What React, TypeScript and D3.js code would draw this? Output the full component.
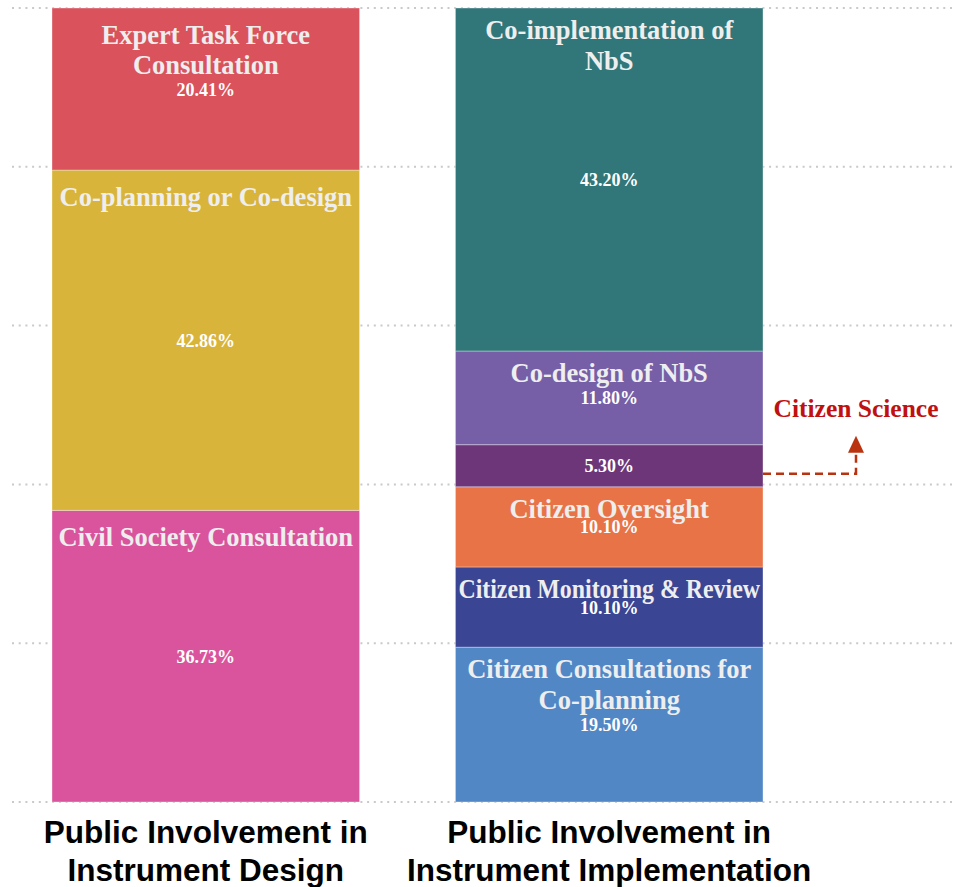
import React from "react";
import * as d3 from "d3";

const barCategories = ["design", "implementation"];
const axisTitles = [
  ["Public Involvement in", "Instrument Design"],
  ["Public Involvement in", "Instrument Implementation"],
];

// stacked bottom -> top
const designLabels = [
  ["Civil Society Consultation"],
  ["Co-planning or Co-design"],
  ["Expert Task Force", "Consultation"],
];
const designValues = [36.73, 42.86, 20.41];
const designColors = ["#d9549c", "#d9b43a", "#d9525c"];

const implLabels = [
  ["Citizen Consultations for", "Co-planning"],
  ["Citizen Monitoring & Review"],
  ["Citizen Oversight"],
  [],
  ["Co-design of NbS"],
  ["Co-implementation of", "NbS"],
];
const implValues = [19.5, 10.1, 10.1, 5.3, 11.8, 43.2];
const implColors = ["#5287c6", "#3a4593", "#e87346", "#6d3679", "#765fa7", "#31777a"];

const gridTicks = [0, 20, 40, 60, 80, 100];
const annotationText = "Citizen Science";
const annotationIndex = 3;

const W = 953;
const H = 887;
const serif = "'Liberation Serif', 'Times New Roman', serif";
const sans = "'Liberation Sans', Arial, sans-serif";

let ctx: CanvasRenderingContext2D | null = null;
function measure(text: string, font: string): number {
  if (typeof document === "undefined") return 0;
  if (!ctx) ctx = document.createElement("canvas").getContext("2d");
  if (!ctx) return 0;
  ctx.font = font;
  return ctx.measureText(text).width;
}

export default function App() {
  const y = d3.scaleLinear().domain([0, 100]).range([802, 8]);
  const x = d3
    .scaleBand<string>()
    .domain(barCategories)
    .range([52, 763])
    .paddingInner(0.2376)
    .paddingOuter(0);
  const bw = x.bandwidth();

  const stacks = [
    { key: "design", labels: designLabels, values: designValues, colors: designColors },
    { key: "implementation", labels: implLabels, values: implValues, colors: implColors },
  ];

  const segs: any[] = [];
  stacks.forEach((s) => {
    let acc = 0;
    s.values.forEach((v, i) => {
      const y0 = acc;
      acc += v;
      segs.push({
        bar: s.key,
        label: s.labels[i],
        value: v,
        color: s.colors[i],
        top: y(acc),
        bottom: y(y0),
        idx: i,
      });
    });
  });

  const csSeg = segs.find((s) => s.bar === "implementation" && s.idx === annotationIndex);
  const barRight = (x("implementation") as number) + bw;
  const arrowY = (csSeg.top + csSeg.bottom) / 2 + 8;
  const arrowX = barRight + 93;
  const annColor = "#c0100f";
  const arrowColor = "#b93310";
  const labelSize = 26.5;
  const labelFont = `bold ${labelSize}px 'Liberation Serif'`;
  const maxW = bw - 6;

  return (
    <svg
      width={W}
      height={H}
      style={{ position: "absolute", left: 0, top: 0, background: "#fff" }}
    >
      {gridTicks.map((t) => (
        <line
          key={t}
          x1={12}
          x2={W}
          y1={y(t)}
          y2={y(t)}
          stroke="#c9c9c9"
          strokeWidth={2}
          strokeDasharray="2 4.7"
        />
      ))}
      {segs.map((s, i) => {
        const x0 = x(s.bar) as number;
        const cx = x0 + bw / 2;
        const mid = (s.top + s.bottom) / 2;
        const h = s.bottom - s.top;
        const off = s.bar === "design" ? 35.5 : 31;
        return (
          <g key={i}>
            <rect
              x={x0}
              y={s.top}
              width={bw}
              height={h}
              fill={s.color}
              stroke="#ffffff"
              strokeOpacity={0.35}
              strokeWidth={1}
            />
            {s.label.map((ln: string, j: number) => {
              const w = measure(ln, labelFont);
              const fit = w > maxW;
              return (
                <text
                  key={j}
                  x={cx}
                  y={s.top + off + j * 30.5}
                  textAnchor="middle"
                  fontFamily={serif}
                  fontWeight="bold"
                  fontSize={labelSize}
                  fill="#eeeeee"
                  textLength={fit ? maxW : undefined}
                  lengthAdjust={fit ? "spacingAndGlyphs" : undefined}
                >
                  {ln}
                </text>
              );
            })}
            <text
              x={cx}
              y={mid + 6.5}
              textAnchor="middle"
              fontFamily={serif}
              fontWeight="bold"
              fontSize={18}
              fill="#ffffff"
            >
              {d3.format(".2f")(s.value) + "%"}
            </text>
          </g>
        );
      })}
      {/* annotation */}
      <path
        d={`M${barRight},${arrowY} H${arrowX} V${arrowY - 19}`}
        fill="none"
        stroke={arrowColor}
        strokeWidth={2.5}
        strokeDasharray="8 5"
      />
      <path
        d={`M${arrowX - 8},${arrowY - 21} L${arrowX},${arrowY - 38} L${arrowX + 8},${arrowY - 21} Z`}
        fill={arrowColor}
      />
      <text
        x={arrowX}
        y={arrowY - 57}
        textAnchor="middle"
        fontFamily={serif}
        fontWeight="bold"
        fontSize={25.5}
        fill={annColor}
      >
        {annotationText}
      </text>
      {barCategories.map((c, i) => {
        const cx = (x(c) as number) + bw / 2;
        return (
          <g key={c}>
            {axisTitles[i].map((ln, j) => (
              <text
                key={j}
                x={cx}
                y={843 + j * 38}
                textAnchor="middle"
                fontFamily={sans}
                fontWeight="bold"
                fontSize={31.5}
                fill="#000"
              >
                {ln}
              </text>
            ))}
          </g>
        );
      })}
    </svg>
  );
}
